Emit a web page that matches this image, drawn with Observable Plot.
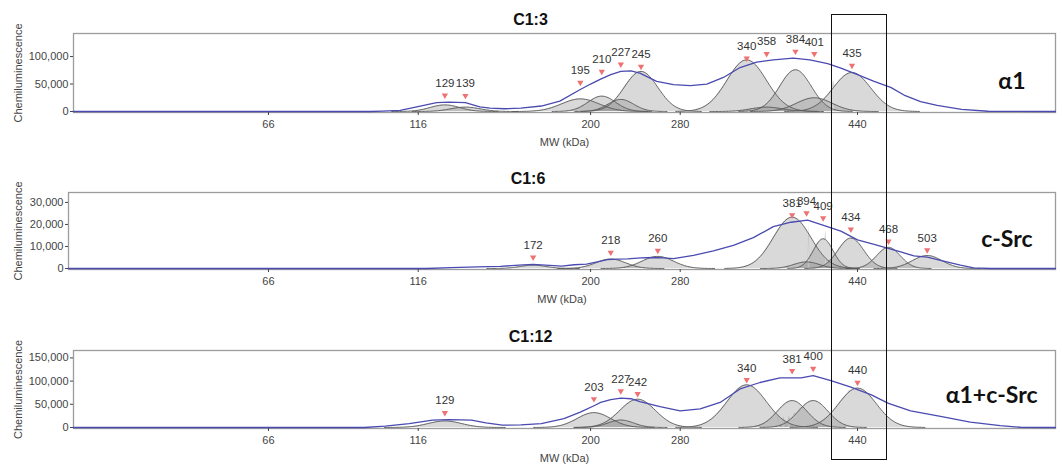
<!DOCTYPE html>
<html><head><meta charset="utf-8">
<script src="https://cdn.jsdelivr.net/npm/d3@7"></script>
<script src="https://cdn.jsdelivr.net/npm/@observablehq/plot@0.6"></script>
<style>
body{margin:0;background:#fff;}
#wrap{position:relative;width:1062px;height:467px;overflow:hidden;font-family:"Liberation Sans",Arial,sans-serif;}
.panel{position:absolute;left:0;}
#box{position:absolute;left:831px;top:14px;width:56px;height:446px;border:1.5px solid #111;box-sizing:border-box;pointer-events:none;}
</style></head><body><div id="wrap"></div>
<script>
// ---- x axis: MW (kDa) ticks on the instrument's migration axis (0..1000)
const mwBreaks = [0, 66, 116, 200, 280, 440, 619];
const migration = [0, 201, 353, 528, 619, 799, 1000];
const xTicks = [66, 116, 200, 280, 440];

// ---- Panel C1:3 (alpha1)
const p1Title = "C1:3", p1Tag = "α1";
const p1PeakMW = [129, 139, 195, 210, 227, 245, 340, 358, 384, 401, 435];
const p1PeakHeight = [12000, 8000, 23000, 28000, 22000, 73000, 94000, 8000, 76000, 25000, 71000];
const p1PeakWidth = [15, 15, 19, 14, 13, 17, 20, 16, 16, 18, 19];
const p1TraceMW = [0,100,104,110,117,125,131,139,146,151,158,166,176,185,195,200,209,218,227,236,244,259,274,289,304,319,334,349,364,382,397,413,425,440,455,470,482,497,512,534,558,619];
const p1TraceVal = [0,0,800,2000,10000,16000,17000,16000,8600,6000,5000,6000,10000,19000,40000,50000,59000,67000,73000,74000,70000,55000,49000,47000,50000,62000,80000,90000,94000,97000,94000,87000,79000,67000,55000,44000,30000,18000,11000,4000,500,0];
const p1YTicks = [0, 50000, 100000];
const p1YDomain = [-1800, 142000];

// ---- Panel C1:6 (c-Src)
const p2Title = "C1:6", p2Tag = "c-Src";
const p2PeakMW = [172, 218, 260, 381, 394, 409, 434, 468, 503];
const p2PeakHeight = [1500, 4300, 5500, 23300, 3000, 13500, 13800, 9600, 5900];
const p2PeakWidth = [13, 15, 16, 19, 13, 10, 13, 12, 15];
const p2TraceMW = [0,120,132,145,156,165,172,180,186,192,198,206,215,224,233,245,256,265,274,292,310,328,346,364,380,395,410,425,440,455,467,479,491,503,515,533,545,560,619];
const p2TraceVal = [0,0,400,700,1000,1500,1900,1400,1100,1700,2000,3000,4000,4300,4400,4800,5000,4800,4500,6000,8000,10500,14000,19000,21000,22000,19500,17000,13000,11000,9300,7500,5700,5200,3700,1500,300,0,0];
const p2YTicks = [0, 10000, 20000, 30000];
const p2YDomain = [-450, 34500];

// ---- Panel C1:12 (alpha1 + c-Src)
const p3Title = "C1:12", p3Tag = "α1+c-Src";
const p3PeakMW = [129, 203, 227, 242, 340, 381, 400, 440];
const p3PeakHeight = [14000, 32000, 16000, 61000, 92000, 58000, 58000, 85000];
const p3PeakWidth = [17, 17, 13, 18, 20, 15, 15, 19];
const p3TraceMW = [0,98,105,113,123,131,142,149,157,166,176,187,195,204,209,218,227,236,244,262,280,298,316,334,352,370,389,400,416,434,452,468,488,515,542,569,587,619];
const p3TraceVal = [0,0,3000,8500,15700,17000,15700,10000,5000,5500,8500,19000,33000,48000,54000,60000,63500,62000,56000,45000,36000,40000,54000,83000,97000,107000,107000,112000,101000,87000,71000,52000,36000,24000,11500,4000,500,0];
const p3YTicks = [0, 50000, 100000, 150000];
const p3YDomain = [-2200, 166000];

const mwToMig = d3.scaleLinear().domain(mwBreaks).range(migration);

function peakCurves(mws, hs, ws) {
  const out = [];
  mws.forEach((mw, i) => {
    const c = mwToMig(mw), s = ws[i], h = hs[i];
    const n = 80;
    for (let k = 0; k <= n; k++) {
      const u = c - 3.6 * s + (7.2 * s) * k / n;
      out.push({id: i, mw: mwToMig.invert(u), v: h * Math.exp(-0.5 * ((u - c) / s) ** 2)});
    }
  });
  return out;
}

function panel(o) {
  const trace = o.traceMW.map((m, i) => ({mw: m, v: o.traceVal[i]}));
  const interp = d3.scaleLinear().domain(o.traceMW).range(o.traceVal);
  const markers = o.peakMW.map(m => ({mw: m, v: interp(m), label: String(m)}));
  const curves = peakCurves(o.peakMW, o.peakHeight, o.peakWidth);
  const xr = migration.map(u => 70 + u * 0.985);
  xr[0] = o.marginLeft;
  const plot = Plot.plot({
    width: 1062, height: o.height,
    marginTop: o.marginTop, marginBottom: o.marginBottom, marginLeft: o.marginLeft, marginRight: 7,
    style: {fontFamily: "Liberation Sans, Arial, sans-serif", background: "transparent", overflow: "visible"},
    x: {type: "linear", domain: mwBreaks, range: xr},
    y: {domain: o.yDomain},
    marks: [
      Plot.frame({stroke: "#9c9c9c", strokeWidth: 1.3}),
      Plot.areaY(curves, {x: "mw", y: "v", z: "id", fill: "#8a8a8a", fillOpacity: 0.32, curve: "linear"}),
      Plot.lineY(curves, {x: "mw", y: "v", z: "id", stroke: "#585858", strokeWidth: 0.9}),
      Plot.lineY(trace, {x: "mw", y: "v", stroke: "#4a4ab0", strokeWidth: 1.3}),
      Plot.dot(markers, {x: "mw", y: "v", symbol: "triangle2", rotate: 180, r: 3, fill: "#ef7272", stroke: null, dy: -7}),
      Plot.text(markers, {x: "mw", y: "v", text: "label", dy: -19, fontSize: 11.5, fill: "#333"}),
      Plot.axisX({ticks: xTicks, tickSize: 3, tickPadding: 5, fontSize: 11, color: "#444", label: "MW (kDa)", labelAnchor: "center", labelOffset: 33, labelArrow: "none"}),
      Plot.axisY({ticks: o.yTicks, tickFormat: d3.format(","), tickSize: 3, tickPadding: 2, fontSize: 11, color: "#444", label: "Chemiluminescence", labelAnchor: "center", labelOffset: o.marginLeft - 14, labelArrow: "none"}),
      Plot.text([o.title], {frameAnchor: "top", lineAnchor: "middle", dy: -14, dx: -34, fontSize: 16, fontWeight: "bold", fill: "#111"}),
      Plot.text([o.tag], {frameAnchor: "right", lineAnchor: "middle", textAnchor: "end", dx: o.tagDx, dy: o.tagDy, fontSize: 23, fontWeight: "bold", fill: "#111", fontFamily: "Lato, 'Open Sans', sans-serif"})
    ]
  });
  plot.classList.add("panel");
  plot.style.top = o.top + "px";
  return plot;
}

const wrap = document.getElementById("wrap");
wrap.appendChild(panel({title: p1Title, tag: p1Tag, peakMW: p1PeakMW, peakHeight: p1PeakHeight, peakWidth: p1PeakWidth, traceMW: p1TraceMW, traceVal: p1TraceVal, yTicks: p1YTicks, yDomain: p1YDomain, top: 0, height: 155, marginTop: 33, marginBottom: 43, marginLeft: 73, tagDx: -30, tagDy: 9}));
wrap.appendChild(panel({title: p2Title, tag: p2Tag, peakMW: p2PeakMW, peakHeight: p2PeakHeight, peakWidth: p2PeakWidth, traceMW: p2TraceMW, traceVal: p2TraceVal, yTicks: p2YTicks, yDomain: p2YDomain, top: 155, height: 155, marginTop: 37, marginBottom: 41, marginLeft: 68, tagDx: -23, tagDy: 9}));
wrap.appendChild(panel({title: p3Title, tag: p3Tag, peakMW: p3PeakMW, peakHeight: p3PeakHeight, peakWidth: p3PeakWidth, traceMW: p3TraceMW, traceVal: p3TraceVal, yTicks: p3YTicks, yDomain: p3YDomain, top: 310, height: 157, marginTop: 40, marginBottom: 39, marginLeft: 73, tagDx: -18, tagDy: 6}));
const box = document.createElement("div");
box.id = "box";
wrap.appendChild(box);
</script>
</body></html>
